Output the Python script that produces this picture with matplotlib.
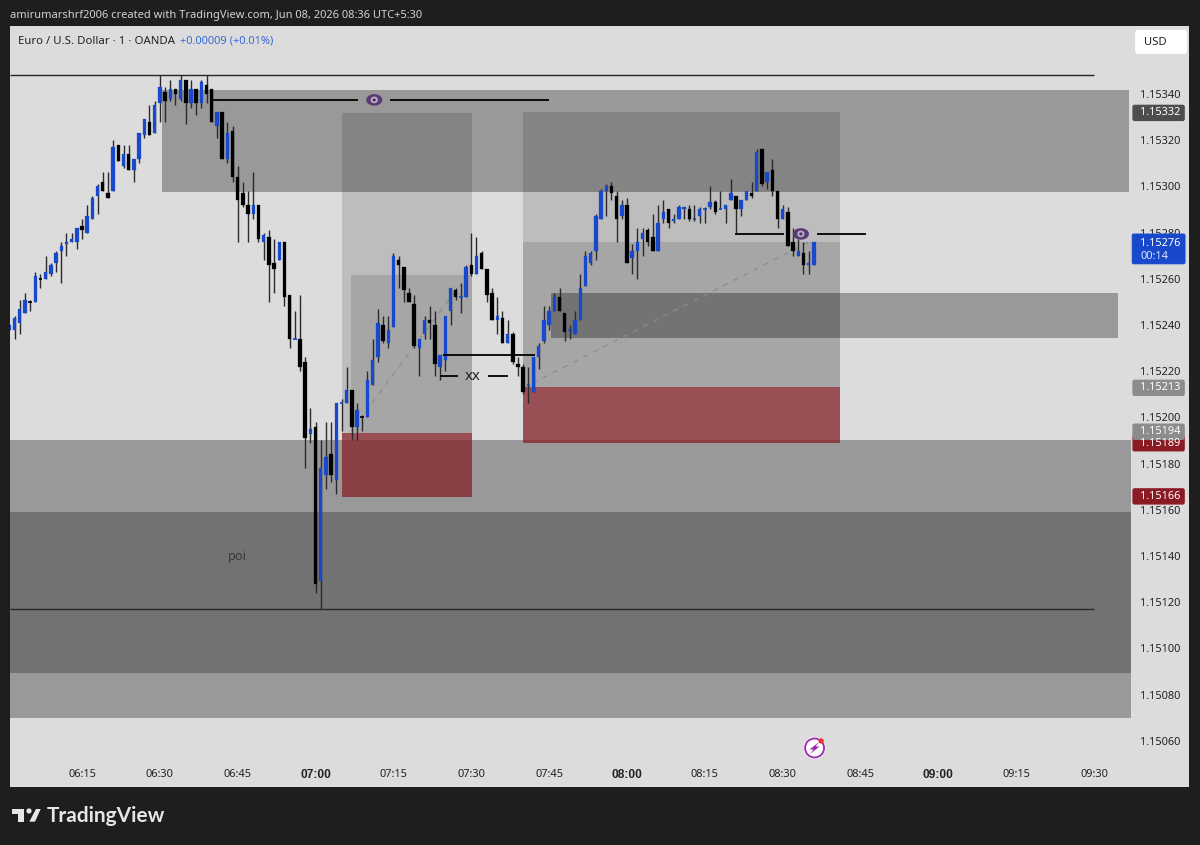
import numpy as np
import matplotlib
matplotlib.use("Agg")
import matplotlib.pyplot as plt
from matplotlib.patches import Rectangle, Ellipse, Polygon, Circle, FancyBboxPatch

# ---- data: prices in 1e-5 above 1.15000, one candle per minute from 06:01 ----
OPEN = [238,238,241,245,250,250,260,260,262,267, 272,275,276,276,283,280,286,296,302,297,
        298,318,309,314,307,312,322,328,323,336, 341,338,342,338,346,336,342,336,344,342,
        326,332,312,324,304,297,292,288,292,276, 278,267,268,276,253,234,234,224,193,196,
        129,175,184,173,206,206,212,196,200,200, 214,226,240,232,239,268,265,254,249,230,
        236,242,240,222,225,246,255,252,252,266, 262,271,264,254,242,243,232,236,223,222,
        214,211,226,233,240,246,252,245,238,236, 242,257,267,272,286,298,300,296,287,292,
        269,272,277,281,278,272,286,290,285,286, 290,290,286,287,290,291,293,290,290,294,
        296,290,294,297,298,316,302,307,298,286, 289,276,270,271,266,266]
HIGH = [240,244,251,254,251,263,262,270,267,272, 276,280,280,282,286,292,296,301,306,306,
        320,318,318,318,312,323,329,335,337,348, 343,346,342,348,346,346,342,346,348,342,
        332,332,328,326,309,302,298,306,292,280, 281,277,276,276,253,246,253,226,204,198,
        190,198,198,206,208,222,212,206,201,220, 234,247,244,244,271,270,265,256,253,234,
        244,248,246,227,244,256,256,258,266,280, 278,272,264,256,252,246,242,237,226,223,
        222,226,232,248,248,254,256,245,240,246, 262,272,272,288,299,301,302,298,294,295,
        275,282,282,282,288,292,294,290,288,292, 291,292,292,291,291,300,294,298,292,303,
        296,294,298,302,316,316,306,312,298,292, 291,282,277,276,272,276]
LOW = [238,234,236,245,246,250,256,260,261,263, 258,270,276,273,277,280,286,288,298,295,
       298,311,308,307,302,310,321,322,323,328, 328,337,335,337,327,334,331,334,336,328,
       321,312,310,302,276,291,276,286,276,268, 250,254,268,248,230,234,220,178,189,124,
       117,169,172,167,194,206,190,190,194,200, 214,224,232,230,239,256,250,250,230,218,
       234,234,218,216,220,240,251,245,252,261, 262,264,250,242,236,232,232,223,218,210,
       206,211,221,232,238,246,246,233,234,236, 242,257,266,268,286,287,294,276,286,267,
       262,260,270,274,272,272,284,282,284,286, 286,285,285,284,284,290,288,290,284,294,
       280,287,294,295,298,300,299,296,282,286, 274,270,270,262,262,266]
CLOSE = [240,243,247,251,250,261,260,263,266,271, 274,276,277,282,281,287,295,300,298,295,
         317,311,314,307,312,323,329,322,335,343, 337,342,340,346,336,342,336,345,340,328,
         332,312,323,304,294,292,288,292,277,279, 266,264,276,252,234,234,222,191,195,128,
         178,183,175,206,206,212,196,203,200,216, 225,241,233,238,270,266,255,250,231,234,
         242,241,223,227,244,256,252,252,265,262, 270,264,253,242,244,232,236,224,222,211,
         214,226,231,242,246,252,246,237,238,242, 256,270,271,287,298,300,297,286,292,267,
         272,276,280,276,272,284,289,284,286,291, 291,286,286,290,290,293,289,290,292,297,
         290,294,298,296,315,301,306,298,286,290, 274,272,272,266,267,276]
DOJI_DOWN = [5, 7, 69]            # minutes whose flat candle is drawn black

Y_TICKS = [340,320,300,280,260,240,220,200,180,160,140,120,100,80,60]
X_TICKS = [15,30,45,60,75,90,105,120,135,150,165,180,195,210]
X_LABELS = ["06:15","06:30","06:45","07:00","07:15","07:30","07:45","08:00",
            "08:15","08:30","08:45","09:00","09:15","09:30"]
X_BOLD = ["07:00","08:00","09:00"]

# (start minute, end minute, low price, high price)
ZONE_TOP = (30.41, 216.7, 297.6, 341.7)
ZONE_LOW = (1.13, 217.1, 69.8, 190.2)
ZONE_POI = (1.13, 217.1, 89.3, 159.0)
ZONE_MID = (105.4, 214.6, 234.3, 253.8)
LEFT_TP = (65.1, 90.1, 193.2, 331.8)
LEFT_ENTRY = (66.8, 90.1, 193.2, 261.6)
LEFT_SL = (65.1, 90.1, 165.5, 193.2)
RIGHT_TP = (100.0, 161.05, 213.0, 332.0)
RIGHT_ENTRY = (100.0, 161.05, 213.0, 276.0)
RIGHT_SL = (100.0, 161.05, 189.0, 213.0)

# (start minute, end minute, price)
LINES = [(1.13, 210.0, 348), (1.13, 210.0, 117),
         (40.05, 68.2, 337.4), (74.3, 105.0, 337.4),
         (84.6, 102.3, 227), (84.0, 87.4, 218), (93.2, 97.1, 218),
         (140.8, 150.3, 279.4), (156.6, 166.1, 279.4)]
DASHED = [((70.9, 87.8), (206.2, 257.3)), ((101.9, 155.85), (214.9, 276.8))]
EYES = [(71.3, 337.4), (153.5, 279.4)]
NOTES = [("xx", 90.3, 217.6, 10.8), ("poi", 44.9, 140.0, 9.2)]

BADGES = [(332, "#4d4d4d"), (213, "#8c8c8c"), (189, "#8a1a24"), (194, "#8c8c8c"), (166, "#8a1a24")]
LAST_PRICE = 276

# ---- layout ----
W, H = 1200, 845
BG = "#dcdcdc"
DARK = "#1e1e1e"
BLUE = "#1848cc"
FONT = ["Noto Sans", "DejaVu Sans"]
FS = 7.9
plt.rcParams["font.family"] = FONT

PX_PER_PT = 46.2 / 20.0
PX_PER_MIN = 5.19
def to_price(p):
    return 1.15 + np.asarray(p, dtype=float) * 1e-5

fig = plt.figure(figsize=(W / 100 + 0.001, H / 100 + 0.001), dpi=100, facecolor=DARK)

back = fig.add_axes([0, 0, 1, 1], zorder=0)
back.set_xlim(0, W); back.set_ylim(H, 0); back.axis("off")
back.add_patch(Rectangle((10, 26), 1179, 761, fc=BG, ec="none"))

ax_l, ax_r, ax_t, ax_b = 10, 1131, 26, 760
ax = fig.add_axes([ax_l / W, 1 - ax_b / H, (ax_r - ax_l) / W, (ax_b - ax_t) / H], zorder=1)
ax.patch.set_alpha(0)
ax.set_xlim(15 + (ax_l - 82) / PX_PER_MIN, 15 + (ax_r - 82) / PX_PER_MIN)
ax.set_ylim(to_price(340 - (ax_b - 94) / PX_PER_PT), to_price(340 - (ax_t - 94) / PX_PER_PT))
for s in ax.spines.values():
    s.set_visible(False)

def box(spec, color, alpha, z):
    t0, t1, p0, p1 = spec
    ax.add_patch(Rectangle((t0, to_price(p0)), t1 - t0, to_price(p1) - to_price(p0),
                           fc=color, alpha=alpha, ec="none", zorder=z))

box(ZONE_LOW, "black", 0.30, 1)
box(ZONE_POI, "black", 0.25, 1.1)
box(ZONE_TOP, "black", 0.30, 1)
box(LEFT_TP, "black", 0.136, 1.2)
box(RIGHT_TP, "black", 0.136, 1.2)
box(LEFT_ENTRY, "black", 0.116, 1.3)
box(RIGHT_ENTRY, "black", 0.116, 1.3)
box(LEFT_SL, "#852128", 0.75, 1.3)
box(RIGHT_SL, "#852128", 0.75, 1.3)
box(ZONE_MID, "black", 0.30, 1.4)

for (tt, pp) in DASHED:
    ax.plot(tt, to_price(pp), color="#8c8c8c", lw=0.9, ls=(0, (4, 5)), zorder=1.6)

# candles
minutes = np.arange(1, len(OPEN) + 1)
o, h, l, c = map(to_price, (OPEN, HIGH, LOW, CLOSE))
colors = []
for m, a, b in zip(minutes, o, c):
    if b > a or (b == a and m not in DOJI_DOWN):
        colors.append(BLUE)
    else:
        colors.append("black")
ax.vlines(minutes, l, h, colors="#2a2a2a", lw=1.0, zorder=3)
ax.bar(minutes, np.abs(c - o), 0.66, bottom=np.minimum(o, c), color=colors,
       edgecolor=colors, linewidth=0.2, zorder=4)
flat = o == c
ax.hlines(o[flat], minutes[flat] - 0.36, minutes[flat] + 0.36,
          colors=np.array(colors)[flat].tolist(), lw=1.2, zorder=4)

for t0, t1, p in LINES:
    wide = t1 - t0 > 100
    ax.hlines(to_price(p), t0, t1, color="#262626" if wide else "black",
              lw=1.0 if wide else 1.3, zorder=5)

for t, p in EYES:
    ax.add_patch(Ellipse((t, to_price(p)), 3.1, 5e-5, fc="#5a3a74", ec="none", zorder=6))
    ax.add_patch(Ellipse((t, to_price(p)), 1.4, 2.9e-5, fc="#b9aec4", ec="none", zorder=6.1))
    ax.add_patch(Ellipse((t, to_price(p)), 0.6, 1.3e-5, fc="#4a2c64", ec="none", zorder=6.2))

for txt, t, p, size in NOTES:
    ax.text(t, to_price(p), txt, ha="center", va="center", fontsize=size,
            color="#222222" if txt == "xx" else "#3a3a3a", zorder=6)

ax.yaxis.tick_right()
ax.set_yticks(to_price(Y_TICKS))
ax.set_yticklabels([f"{v:.5f}" for v in to_price(Y_TICKS)], fontsize=FS, color="#222222")
ax.set_xticks(X_TICKS)
ax.set_xticklabels(X_LABELS, fontsize=FS, color="#222222")
ax.tick_params(axis="y", length=0, pad=6.5)
ax.tick_params(axis="x", length=0, pad=6.5)
for lab in ax.get_xticklabels():
    if lab.get_text() in X_BOLD:
        lab.set_fontfamily("Liberation Sans")
        lab.set_fontweight("bold")
        lab.set_fontsize(8.6)

# ---- chrome in pixel coordinates ----
top = fig.add_axes([0, 0, 1, 1], zorder=3)
top.set_xlim(0, W); top.set_ylim(H, 0); top.axis("off"); top.patch.set_alpha(0)

def py(p):
    return 94 + (340 - p) * PX_PER_PT

for p, col in BADGES:
    y = py(p) + 0.5
    top.add_patch(FancyBboxPatch((1133, y - 7.5), 51, 15, boxstyle="round,pad=0,rounding_size=1.5",
                                 fc=col, ec=col, lw=1))
    top.text(1140, y, f"{to_price(p):.5f}", color="white", fontsize=FS, va="center", ha="left")
top.add_patch(FancyBboxPatch((1132, 234), 53, 30, boxstyle="round,pad=0,rounding_size=1.5", fc=BLUE, ec=BLUE, lw=0.5))
top.text(1140, 243, f"{to_price(LAST_PRICE):.5f}", color="white", fontsize=FS, va="center", ha="left")
top.text(1140, 256.5, "00:14", color="#dfe6fb", fontsize=FS, va="center", ha="left")

top.add_patch(FancyBboxPatch((1135, 30), 52, 24, boxstyle="round,pad=0,rounding_size=3", fc="white", ec="none"))
top.text(1144, 42, "USD", color="#222222", fontsize=8.1, va="center", ha="left")

top.text(10, 15, "amirumarshrf2006 created with TradingView.com, Jun 08, 2026 08:36 UTC+5:30",
         color="#d2d2d2", fontsize=7.97, va="center", ha="left")
top.text(18, 41, "Euro / U.S. Dollar · 1 · OANDA", color="#222222", fontsize=8.2, va="center", ha="left")
top.text(180, 41, "+0.00009 (+0.01%)", color="#3a68d8", fontsize=8.0, va="center", ha="left")

# TradingView logo
top.add_patch(Polygon([(11.7, 809), (24, 809), (24, 821.7), (18.3, 821.7), (18.3, 814), (11.7, 814)], fc="#e6e6e6", ec="none"))
top.add_patch(Polygon([(36, 809), (40.7, 809), (35, 821.7), (29.3, 821.7)], fc="#e6e6e6", ec="none"))
top.add_patch(Circle((29, 811), 2.6, fc="#e6e6e6", ec="none"))
top.text(47, 816, "TradingView", color="#e6e6e6", fontsize=15, family="Lato", weight="bold", va="center", ha="left")

# flash icon
top.add_patch(Circle((814.5, 748), 11, fc="white", ec="none"))
top.add_patch(Circle((814.5, 748), 9.5, fc="white", ec="#9c27b0", lw=1.3))
top.add_patch(Polygon([(819, 742), (809.5, 749.5), (813.5, 749.5), (810, 754), (819.5, 746.5), (815.5, 746.5)], fc="#9c27b0", ec="none"))
top.add_patch(Circle((821, 741), 2.7, fc="#f0303c", ec="none"))

fig.savefig("out.png", dpi=100, facecolor=DARK)
